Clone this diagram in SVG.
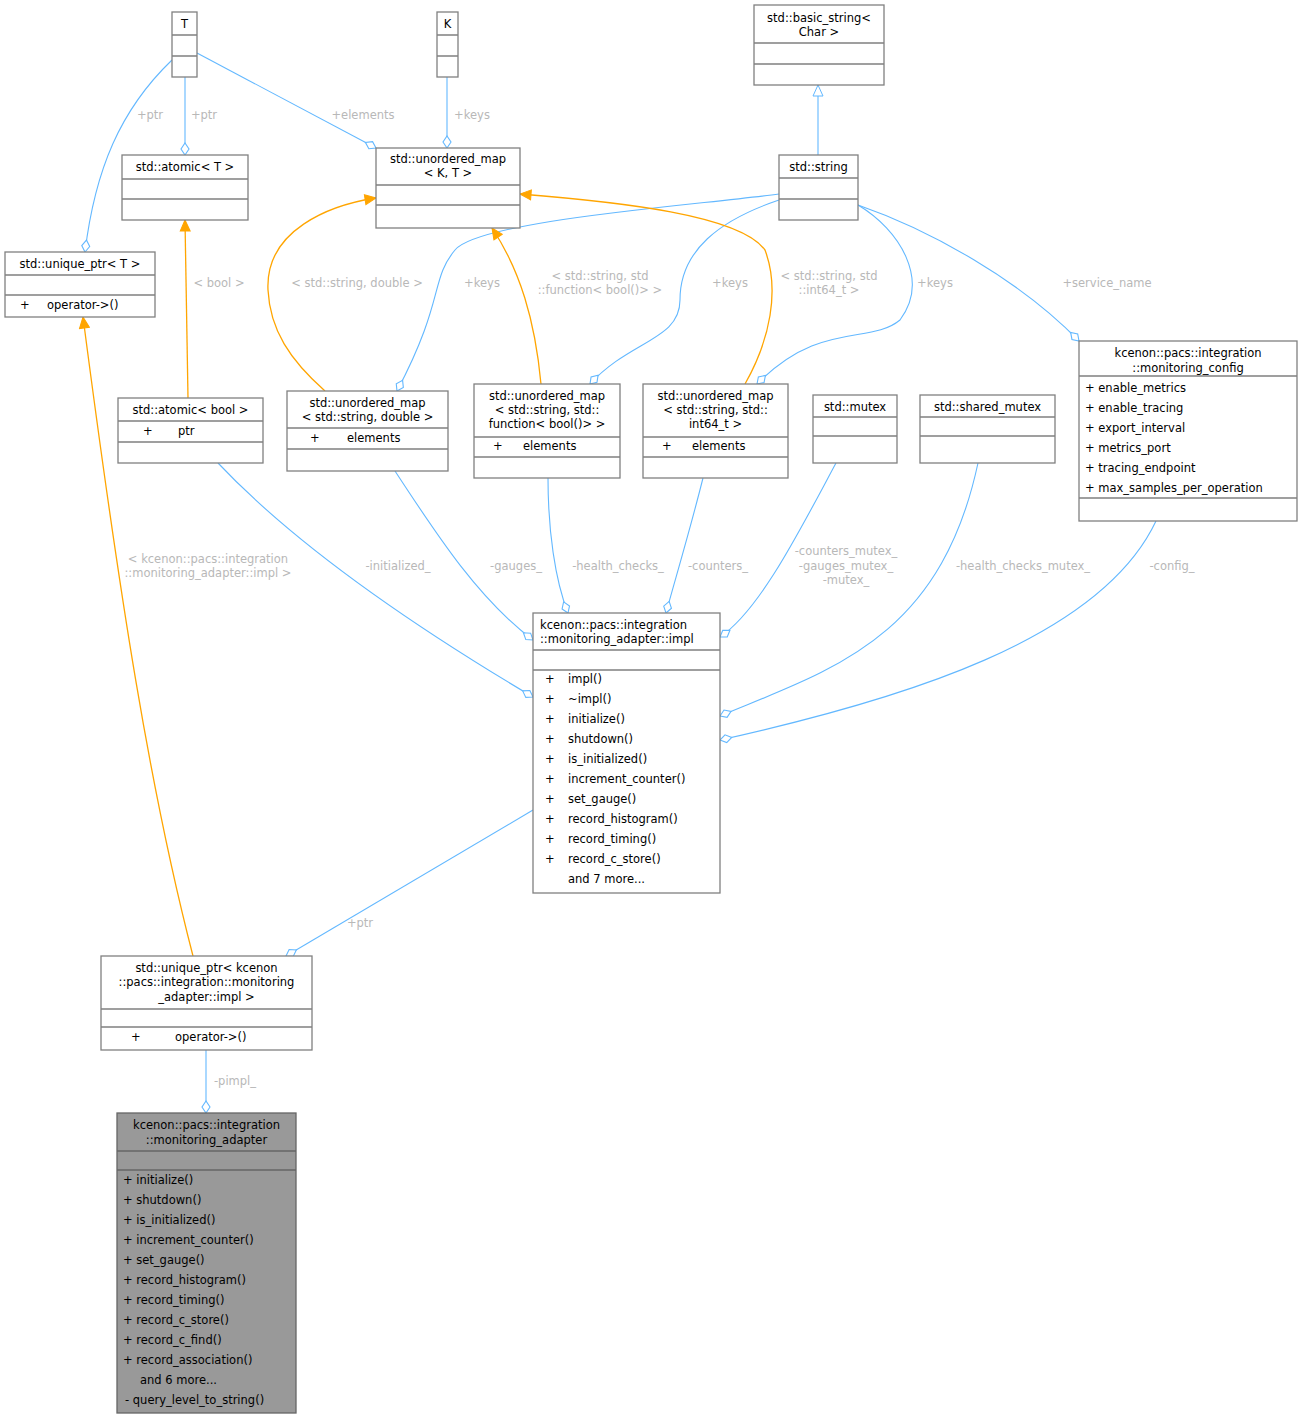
<svg xmlns="http://www.w3.org/2000/svg" width="1302" height="1419" viewBox="0 0 1302 1419">
<style>
text{font-family:"DejaVu Sans","Liberation Sans",sans-serif;font-size:11.5px;fill:#000}
.c{text-anchor:middle}
.lb{fill:#b8b8b8;text-anchor:middle}
.box{fill:#fff;stroke:#808080;stroke-width:1.3}
.sep{stroke:#808080;stroke-width:1.3}
.b{fill:none;stroke:#63b8ff;stroke-width:1.1}
.o{fill:none;stroke:#ffa500;stroke-width:1.3}
</style>
<defs>
<marker id="dia" markerUnits="userSpaceOnUse" markerWidth="24" markerHeight="14" refX="22" refY="7" orient="auto"><path d="M22,7 L16,3 L10,7 L16,11 Z" fill="#fff" stroke="#63b8ff" stroke-width="1.1"/></marker>
<marker id="arr" markerUnits="userSpaceOnUse" markerWidth="14" markerHeight="12" refX="12" refY="6" orient="auto"><path d="M1,1 L12,6 L1,11 Z" fill="#ffa500" stroke="#ffa500"/></marker>
<marker id="tri" markerUnits="userSpaceOnUse" markerWidth="14" markerHeight="12" refX="12" refY="6" orient="auto"><path d="M1,1 L12,6 L1,11 Z" fill="#fff" stroke="#63b8ff"/></marker>
</defs>
<rect width="1302" height="1419" fill="#fff"/>
<g id="edges">
<path class="b" d="M172,60 C120,110 95,170 85,252" marker-end="url(#dia)"/>
<path class="b" d="M185,77 L185,155" marker-end="url(#dia)"/>
<path class="b" d="M197,53 L376,148" marker-end="url(#dia)"/>
<path class="b" d="M447,77 L447,148" marker-end="url(#dia)"/>
<path class="b" d="M818,155 L818,85" marker-end="url(#tri)"/>
<path class="b" d="M779,194 C700,205 480,220 455,250 C430,280 445,300 397,391" marker-end="url(#dia)"/>
<path class="b" d="M779,200 C720,220 680,250 680,300 C680,340 630,340 590,384" marker-end="url(#dia)"/>
<path class="b" d="M858,205 C900,230 930,280 900,320 C870,345 820,320 757,384" marker-end="url(#dia)"/>
<path class="b" d="M858,205 C930,230 1020,280 1079,341" marker-end="url(#dia)"/>
<path class="o" d="M325,391 C290,360 270,330 268,290 C265,230 330,205 376,198" marker-end="url(#arr)"/>
<path class="o" d="M541,384 C535,320 520,270 492,228" marker-end="url(#arr)"/>
<path class="o" d="M745,384 C770,340 780,290 765,250 C740,215 620,202 520,194" marker-end="url(#arr)"/>
<path class="o" d="M188,398 L185,220" marker-end="url(#arr)"/>
<path class="o" d="M193,956 C150,790 120,600 83,317" marker-end="url(#arr)"/>
<path class="b" d="M218,463 C300,550 420,630 533,697" marker-end="url(#dia)"/>
<path class="b" d="M395,471 C440,540 480,600 533,640" marker-end="url(#dia)"/>
<path class="b" d="M548,478 C548,530 555,580 568,613" marker-end="url(#dia)"/>
<path class="b" d="M703,478 C690,530 675,580 666,613" marker-end="url(#dia)"/>
<path class="b" d="M836,463 C800,530 760,610 720,637" marker-end="url(#dia)"/>
<path class="b" d="M978,463 C940,640 830,670 720,716" marker-end="url(#dia)"/>
<path class="b" d="M1156,521 C1100,640 900,700 720,740" marker-end="url(#dia)"/>
<path class="b" d="M533,810 L286,956" marker-end="url(#dia)"/>
<path class="b" d="M206,1050 L206,1113" marker-end="url(#dia)"/>
<text class="lb" x="150" y="119">+ptr</text>
<text class="lb" x="204" y="119">+ptr</text>
<text class="lb" x="363" y="119">+elements</text>
<text class="lb" x="472" y="119">+keys</text>
<text class="lb" x="357" y="287">&lt; std::string, double &gt;</text>
<text class="lb" x="482" y="287">+keys</text>
<text class="lb" x="600" y="280">&lt; std::string, std</text>
<text class="lb" x="600" y="294">::function&lt; bool()&gt; &gt;</text>
<text class="lb" x="730" y="287">+keys</text>
<text class="lb" x="829" y="280">&lt; std::string, std</text>
<text class="lb" x="829" y="294">::int64_t &gt;</text>
<text class="lb" x="935" y="287">+keys</text>
<text class="lb" x="1107" y="287">+service_name</text>
<text class="lb" x="219" y="287">&lt; bool &gt;</text>
<text class="lb" x="208" y="563">&lt; kcenon::pacs::integration</text>
<text class="lb" x="208" y="577">::monitoring_adapter::impl &gt;</text>
<text class="lb" x="398" y="570">-initialized_</text>
<text class="lb" x="516" y="570">-gauges_</text>
<text class="lb" x="618" y="570">-health_checks_</text>
<text class="lb" x="718" y="570">-counters_</text>
<text class="lb" x="846" y="555">-counters_mutex_</text>
<text class="lb" x="846" y="570">-gauges_mutex_</text>
<text class="lb" x="846" y="584">-mutex_</text>
<text class="lb" x="1023" y="570">-health_checks_mutex_</text>
<text class="lb" x="1172" y="570">-config_</text>
<text class="lb" x="360" y="927">+ptr</text>
<text class="lb" x="235" y="1085">-pimpl_</text>
</g>
<g id="T"><rect class="box" x="172" y="12" width="25" height="65"/><path class="sep" d="M172,35H197M172,56H197"/><text class="c" x="184.5" y="28">T</text></g>
<g id="K"><rect class="box" x="437" y="12" width="21" height="65"/><path class="sep" d="M437,35H458M437,56H458"/><text class="c" x="447.5" y="28">K</text></g>
<g id="basic_string"><rect class="box" x="754" y="5" width="130" height="80"/><path class="sep" d="M754,43H884M754,64H884"/><text class="c" x="819" y="22">std::basic_string&lt;</text><text class="c" x="819" y="36">Char &gt;</text></g>
<g id="atomicT"><rect class="box" x="122" y="155" width="126" height="65"/><path class="sep" d="M122,179H248M122,199H248"/><text class="c" x="185" y="171">std::atomic&lt; T &gt;</text></g>
<g id="umapKT"><rect class="box" x="376" y="148" width="144" height="80"/><path class="sep" d="M376,185H520M376,205H520"/><text class="c" x="448" y="163">std::unordered_map</text><text class="c" x="448" y="177">&lt; K, T &gt;</text></g>
<g id="string"><rect class="box" x="779" y="155" width="79" height="65"/><path class="sep" d="M779,178H858M779,199H858"/><text class="c" x="818.5" y="171">std::string</text></g>
<g id="uniqueT"><rect class="box" x="5" y="252" width="150" height="65"/><path class="sep" d="M5,275H155M5,295H155"/><text class="c" x="80" y="268">std::unique_ptr&lt; T &gt;</text><text x="20" y="309">+</text><text x="47" y="309">operator-&gt;()</text></g>
<g id="atomicBool"><rect class="box" x="118" y="398" width="145" height="65"/><path class="sep" d="M118,421H263M118,442H263"/><text class="c" x="190.5" y="414">std::atomic&lt; bool &gt;</text><text x="143" y="435">+</text><text x="178" y="435">ptr</text></g>
<g id="umapDouble"><rect class="box" x="287" y="391" width="161" height="80"/><path class="sep" d="M287,428H448M287,449H448"/><text class="c" x="367.5" y="407">std::unordered_map</text><text class="c" x="367.5" y="421">&lt; std::string, double &gt;</text><text x="310" y="442">+</text><text x="347" y="442">elements</text></g>
<g id="umapFunc"><rect class="box" x="474" y="384" width="146" height="94"/><path class="sep" d="M474,437H620M474,457H620"/><text class="c" x="547" y="400">std::unordered_map</text><text class="c" x="547" y="414">&lt; std::string, std::</text><text class="c" x="547" y="428">function&lt; bool()&gt; &gt;</text><text x="493" y="450">+</text><text x="523" y="450">elements</text></g>
<g id="umapInt"><rect class="box" x="643" y="384" width="145" height="94"/><path class="sep" d="M643,437H788M643,457H788"/><text class="c" x="715.5" y="400">std::unordered_map</text><text class="c" x="715.5" y="414">&lt; std::string, std::</text><text class="c" x="715.5" y="428">int64_t &gt;</text><text x="662" y="450">+</text><text x="692" y="450">elements</text></g>
<g id="mutex"><rect class="box" x="813" y="395" width="84" height="68"/><path class="sep" d="M813,417H897M813,436H897"/><text class="c" x="855" y="411">std::mutex</text></g>
<g id="shared_mutex"><rect class="box" x="920" y="395" width="135" height="68"/><path class="sep" d="M920,417H1055M920,436H1055"/><text class="c" x="987.5" y="411">std::shared_mutex</text></g>
<g id="config"><rect class="box" x="1079" y="341" width="218" height="180"/><path class="sep" d="M1079,376H1297M1079,498H1297"/><text class="c" x="1188" y="357">kcenon::pacs::integration</text><text class="c" x="1188" y="372">::monitoring_config</text>
<text x="1085" y="392">+  enable_metrics</text><text x="1085" y="412">+  enable_tracing</text><text x="1085" y="432">+  export_interval</text><text x="1085" y="452">+  metrics_port</text><text x="1085" y="472">+  tracing_endpoint</text><text x="1085" y="492">+  max_samples_per_operation</text></g>
<g id="impl"><rect class="box" x="533" y="613" width="187" height="280"/><path class="sep" d="M533,650H720M533,670H720"/><text x="540" y="629">kcenon::pacs::integration</text><text x="540" y="643">::monitoring_adapter::impl</text>
<text x="545" y="683">+</text><text x="568" y="683">impl()</text>
<text x="545" y="703">+</text><text x="568" y="703">~impl()</text>
<text x="545" y="723">+</text><text x="568" y="723">initialize()</text>
<text x="545" y="743">+</text><text x="568" y="743">shutdown()</text>
<text x="545" y="763">+</text><text x="568" y="763">is_initialized()</text>
<text x="545" y="783">+</text><text x="568" y="783">increment_counter()</text>
<text x="545" y="803">+</text><text x="568" y="803">set_gauge()</text>
<text x="545" y="823">+</text><text x="568" y="823">record_histogram()</text>
<text x="545" y="843">+</text><text x="568" y="843">record_timing()</text>
<text x="545" y="863">+</text><text x="568" y="863">record_c_store()</text>
<text x="568" y="883">and 7 more...</text></g>
<g id="uniqueImpl"><rect class="box" x="101" y="956" width="211" height="94"/><path class="sep" d="M101,1009H312M101,1027H312"/><text class="c" x="206.5" y="972">std::unique_ptr&lt; kcenon</text><text class="c" x="206.5" y="986">::pacs::integration::monitoring</text><text class="c" x="206.5" y="1001">_adapter::impl &gt;</text><text x="131" y="1041">+</text><text x="175" y="1041">operator-&gt;()</text></g>
<g id="adapter"><rect x="117" y="1113" width="179" height="300" fill="#999" stroke="#666" stroke-width="1.3"/><path d="M117,1151H296M117,1170H296" stroke="#666" stroke-width="1.3"/><text class="c" x="206.5" y="1129">kcenon::pacs::integration</text><text class="c" x="206.5" y="1144">::monitoring_adapter</text>
<text x="123" y="1184">+  initialize()</text>
<text x="123" y="1204">+  shutdown()</text>
<text x="123" y="1224">+  is_initialized()</text>
<text x="123" y="1244">+  increment_counter()</text>
<text x="123" y="1264">+  set_gauge()</text>
<text x="123" y="1284">+  record_histogram()</text>
<text x="123" y="1304">+  record_timing()</text>
<text x="123" y="1324">+  record_c_store()</text>
<text x="123" y="1344">+  record_c_find()</text>
<text x="123" y="1364">+  record_association()</text>
<text x="140" y="1384">and 6 more...</text>
<text x="125" y="1404">-  query_level_to_string()</text></g>
</svg>
